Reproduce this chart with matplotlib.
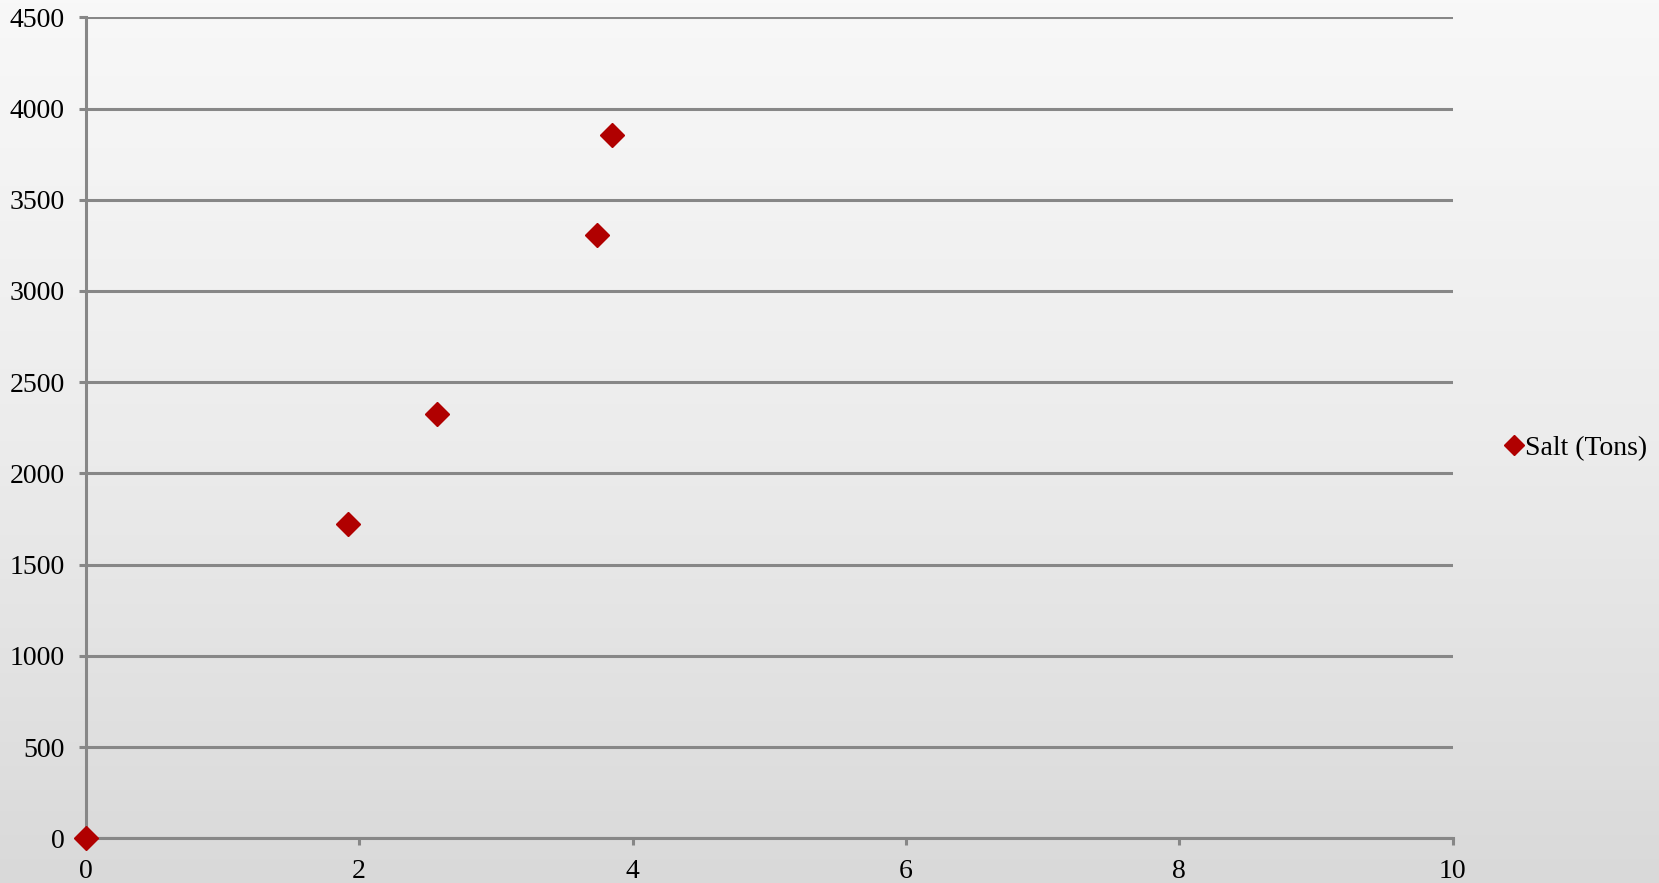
import numpy as np
import matplotlib
matplotlib.use("Agg")
import matplotlib.pyplot as plt
from matplotlib.colors import LinearSegmentedColormap

# Data
x_values = [0, 1.92, 2.57, 3.74, 3.85]
salt_tons = [0, 1725, 2325, 3305, 3855]
series_name = "Salt (Tons)"
x_ticks = [0, 2, 4, 6, 8, 10]
y_ticks = [0, 500, 1000, 1500, 2000, 2500, 3000, 3500, 4000, 4500]

plt.rcParams['font.family'] = ['Liberation Serif', 'DejaVu Serif']

W, H, DPI = 1659, 883, 100
fig = plt.figure(figsize=(W / DPI, H / DPI), dpi=DPI)

# background gradient (light top -> darker bottom)
bg = fig.add_axes([0, 0, 1, 1], zorder=-10)
cmap = LinearSegmentedColormap.from_list("bg", ["#f8f8f8", "#ececec", "#d9d9d9"])
grad = np.linspace(0, 1, 256).reshape(-1, 1)
bg.imshow(grad, aspect='auto', cmap=cmap, extent=[0, 1, 0, 1], origin='upper')
bg.set_axis_off()

left, right = 85.7 / W, 1452.7 / W
top, bottom = 1 - 17.3 / H, 1 - 838.3 / H
ax = fig.add_axes([left, bottom, right - left, top - bottom])
ax.patch.set_alpha(0)

grey = "#878787"
lw = 2.2
ax.set_xlim(0, 10)
ax.set_ylim(0, 4500)
ax.set_xticks(x_ticks)
ax.set_yticks(y_ticks)
ax.grid(axis='y', color=grey, linewidth=lw)
ax.set_axisbelow(True)
for s in ['top', 'right']:
    ax.spines[s].set_visible(False)
for s in ['left', 'bottom']:
    ax.spines[s].set_color(grey)
    ax.spines[s].set_linewidth(lw)
ax.tick_params(axis='both', colors=grey, width=lw, length=5, labelsize=20,
               labelcolor='black')
ax.tick_params(axis='y', pad=10)
ax.tick_params(axis='x', pad=10)

ax.plot(x_values, salt_tons, linestyle='none', marker='D', markersize=12.5,
        color='#b00000', label=series_name, clip_on=False, zorder=5)

leg = fig.legend(loc='center left', bbox_to_anchor=(1503 / W, 1 - 448 / H),
                 frameon=False, fontsize=20, handlelength=0.8,
                 handletextpad=0.0, borderaxespad=0, borderpad=0,
                 markerscale=0.8)

fig.savefig("out.png", dpi=DPI)
